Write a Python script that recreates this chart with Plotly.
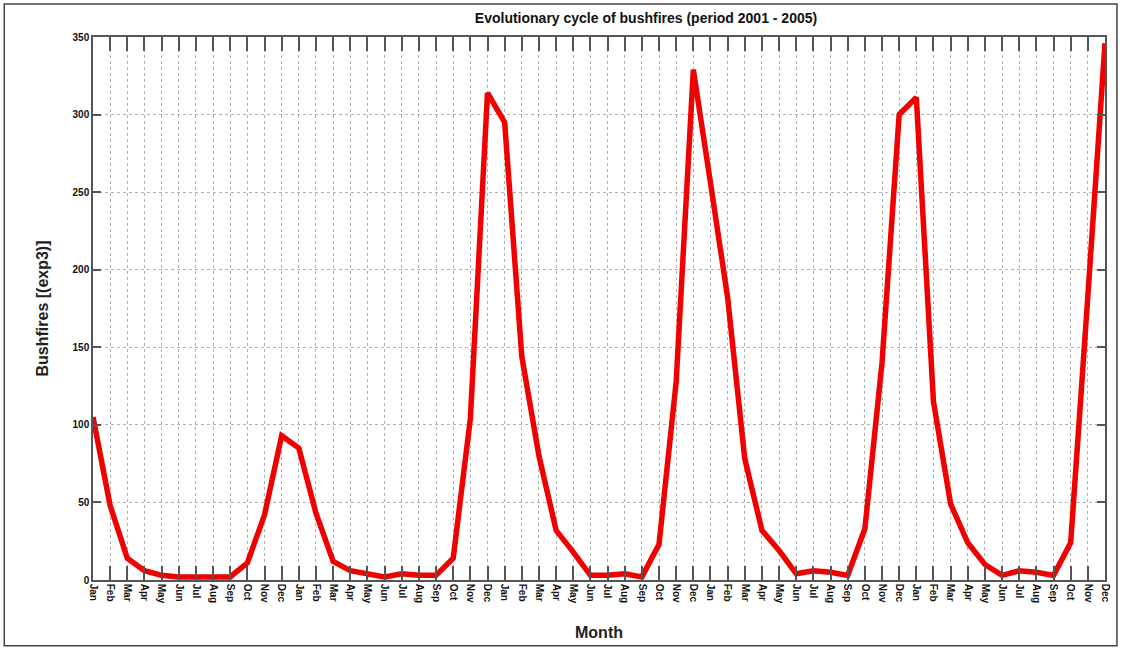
import plotly.graph_objects as go

month_names = ["Jan", "Feb", "Mar", "Apr", "May", "Jun",
               "Jul", "Aug", "Sep", "Oct", "Nov", "Dec"]
years = [2001, 2002, 2003, 2004, 2005]

fires_2001 = [105, 48, 14, 6, 3, 2, 2, 2, 2, 11, 42, 93]
fires_2002 = [85, 43, 12, 6, 4, 2, 4, 3, 3, 14, 104, 314]
fires_2003 = [295, 144, 80, 32, 18, 3, 3, 4, 2, 23, 128, 329]
fires_2004 = [256, 182, 78, 32, 19, 4, 6, 5, 3, 33, 140, 300]
fires_2005 = [311, 115, 49, 24, 10, 3, 6, 5, 3, 24, 183, 346]

y_ticks = [0, 50, 100, 150, 200, 250, 300, 350]

values = fires_2001 + fires_2002 + fires_2003 + fires_2004 + fires_2005
tick_labels = month_names * len(years)
x_idx = list(range(len(values)))

W, H = 1123, 651
L, R, T, B = 93, 15, 37, 69
pw = W - L - R
ph = H - T - B

fig = go.Figure()
fig.add_trace(go.Scatter(
    x=x_idx, y=values, mode="lines",
    line=dict(color="#f00000", width=5.5),
    hoverinfo="y", showlegend=False,
))

axis_font = dict(family="Liberation Sans", size=10, color="#111")

fig.update_layout(
    width=W, height=H,
    margin=dict(l=L, r=R, t=T, b=B),
    paper_bgcolor="white", plot_bgcolor="white",
    title=dict(
        text="<b>Evolutionary cycle of bushfires (period 2001 - 2005)</b>",
        font=dict(family="Liberation Sans", size=14, color="#111"),
        x=646 / W, xanchor="center",
        y=1 - 18 / H, yanchor="middle",
    ),
    xaxis=dict(
        range=[0, len(values) - 1],
        tickmode="array", tickvals=x_idx,
        ticktext=["<b>%s</b>" % t for t in tick_labels],
        tickangle=90, tickfont=dict(family="Liberation Sans", size=10, color="#111"),
        ticks="inside", ticklen=14, tickwidth=1.5, tickcolor="#555",
        showline=True, linecolor="#555", linewidth=1.5, mirror="ticks",
        showgrid=True, gridcolor="#b0b0b0", griddash="dot", gridwidth=1,
        zeroline=False,
        title=dict(text="<b>Month</b>",
                   font=dict(family="Liberation Sans", size=16, color="#222"),
                   standoff=24),
    ),
    yaxis=dict(
        range=[0, 350],
        tickmode="array", tickvals=y_ticks,
        ticktext=["<b>%d</b>" % v for v in y_ticks],
        tickfont=axis_font,
        ticks="inside", ticklen=8, tickwidth=1.5, tickcolor="#555",
        showline=True, linecolor="#555", linewidth=1.5, mirror="ticks",
        showgrid=True, gridcolor="#b0b0b0", griddash="dot", gridwidth=1,
        zeroline=False,
        title=dict(text="<b>Bushfires [(exp3)]</b>",
                   font=dict(family="Liberation Sans", size=16, color="#222"),
                   standoff=20),
    ),
    shapes=[dict(
        type="rect", xref="paper", yref="paper",
        x0=(4 - L) / pw, x1=(1120 - L) / pw,
        y0=(H - B - 648) / ph, y1=(H - B - 4) / ph,
        line=dict(color="#444", width=1.5), fillcolor="rgba(0,0,0,0)",
        layer="below",
    )],
)

fig.write_html(
    "out.html",
    config={"displayModeBar": False},
    post_script="document.body.style.margin='0';document.body.style.padding='0';",
)
